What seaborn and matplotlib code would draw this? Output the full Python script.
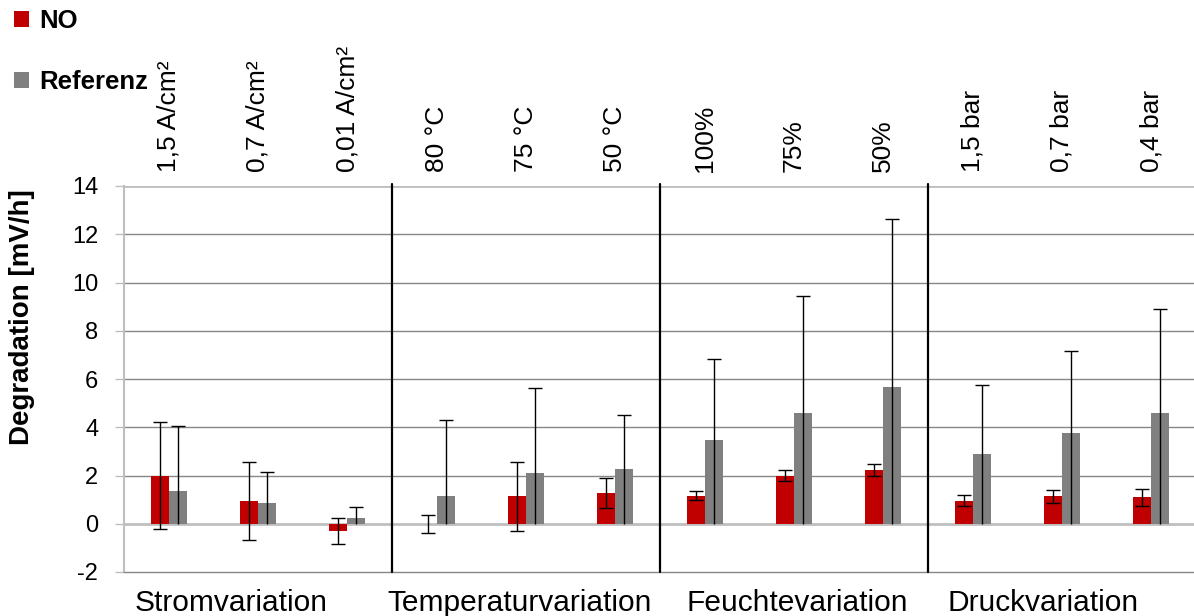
import numpy as np
import pandas as pd
import matplotlib
matplotlib.use("Agg")
import matplotlib.pyplot as plt
import matplotlib.transforms as mtransforms
from matplotlib.patches import Patch
import seaborn as sns

# ---------------- data ----------------
conditions = ["1,5 A/cm²", "0,7 A/cm²", "0,01 A/cm²",
              "80 °C", "75 °C", "50 °C",
              "100%", "75%", "50%",
              "1,5 bar", "0,7 bar", "0,4 bar"]
groups = ["Stromvariation", "Temperaturvariation", "Feuchtevariation", "Druckvariation"]
no_values = [2.0, 0.96, -0.3, -0.02, 1.13, 1.29, 1.16, 2.0, 2.23, 0.96, 1.13, 1.09]
no_err = [2.2, 1.62, 0.52, 0.38, 1.41, 0.62, 0.18, 0.22, 0.23, 0.23, 0.26, 0.35]
ref_values = [1.37, 0.84, 0.23, 1.16, 2.1, 2.26, 3.46, 4.59, 5.67, 2.88, 3.78, 4.59]
ref_err_top = [4.05, 2.14, 0.70, 4.3, 5.61, 4.52, 6.83, 9.42, 12.62, 5.74, 7.16, 8.92]
series = ["NO", "Referenz"]
y_ticks = [-2, 0, 2, 4, 6, 8, 10, 12, 14]

# layout (label positions in category units)
group_label_x = [0.70, 3.93, 7.04, 9.79]

RED = "#C00000"
GRAY = "#808080"

df = pd.DataFrame({
    "cond": conditions * 2,
    "value": no_values + ref_values,
    "series": [series[0]] * len(conditions) + [series[1]] * len(conditions),
})

sns.set_theme(style="white")
plt.rcParams["font.family"] = ["Liberation Sans", "DejaVu Sans"]
plt.rcParams["text.color"] = "black"
plt.rcParams["axes.labelcolor"] = "black"
plt.rcParams["xtick.color"] = "black"
plt.rcParams["ytick.color"] = "black"

fig = plt.figure(figsize=(11.94, 6.16), dpi=100)
ax = fig.add_axes([124 / 1194, 1 - 572 / 616, 1072 / 1194, 386 / 616])

sns.barplot(data=df, x="cond", y="value", hue="series", order=conditions,
            hue_order=series, palette=[RED, GRAY], width=0.4, dodge=True,
            errorbar=None, saturation=1, legend=False, ax=ax, zorder=3,
            linewidth=0, edgecolor="none")

x = np.arange(len(conditions))
# NO error bars (symmetric)
ax.errorbar(x - 0.1, no_values, yerr=no_err, fmt="none", ecolor="black",
            elinewidth=1.0, capsize=5, capthick=1.0, zorder=5)
# Referenz error bars: line from baseline to upper value, cap at top
ax.vlines(x + 0.1, 0, ref_err_top, colors="black", linewidth=1.0, zorder=5)
ax.plot(x + 0.1, ref_err_top, linestyle="none", marker="_", markersize=10,
        markeredgewidth=1.0, color="black", zorder=5)

ax.set_xlim(-0.5, len(conditions) - 0.5)
ax.set_ylim(-2, 14)
ax.set_yticks(y_ticks)
ax.set_yticklabels([str(t) for t in y_ticks], fontsize=17, color="black")

# gridlines
for t in y_ticks:
    if t in (0, 14):
        ax.axhline(t, color="#BFBFBF", lw=2.0, zorder=1)
    elif t != -2:
        ax.axhline(t, color="#878787", lw=1.0, zorder=1)

# group separators
for sep in [2.5, 5.5, 8.5]:
    ax.axvline(sep, color="black", lw=1.6, zorder=4, clip_on=False, ymax=1.005)

for s in ["top", "right"]:
    ax.spines[s].set_visible(False)
ax.spines["left"].set_color("#BFBFBF")
ax.spines["left"].set_linewidth(1.5)
ax.spines["bottom"].set_color("#878787")
ax.spines["bottom"].set_linewidth(1.0)

ax.tick_params(axis="y", length=6.5, width=1.0, color="#BFBFBF", labelcolor="black",
               pad=12, left=True)
ax.xaxis.tick_top()
ax.tick_params(axis="x", length=0, pad=10, labelsize=19, rotation=90, labelcolor="black")
ax.set_xlabel("")
ax.set_ylabel("")
fig.text(22 / 1194, 1 - 317 / 616, "Degradation [mV/h]", rotation=90,
         ha="center", va="center", fontsize=20, fontweight="bold", color="black")

trans = mtransforms.blended_transform_factory(ax.transData, ax.transAxes)
for gx, g in zip(group_label_x, groups):
    ax.text(gx, -0.101, g, transform=trans, ha="center", va="baseline",
            fontsize=21.5, color="black")

handles = [Patch(facecolor=RED, edgecolor="none"), Patch(facecolor=GRAY, edgecolor="none")]
leg = fig.legend(handles, series, loc="upper left", bbox_to_anchor=(14 / 1194, 1 - 9 / 616),
                 frameon=False, prop={"weight": "bold", "size": 18.5}, handlelength=0.6,
                 handleheight=0.6, handletextpad=0.4, labelspacing=1.45, borderpad=0,
                 borderaxespad=0)
for t in leg.get_texts():
    t.set_color("black")

fig.savefig("out.png", dpi=100)
